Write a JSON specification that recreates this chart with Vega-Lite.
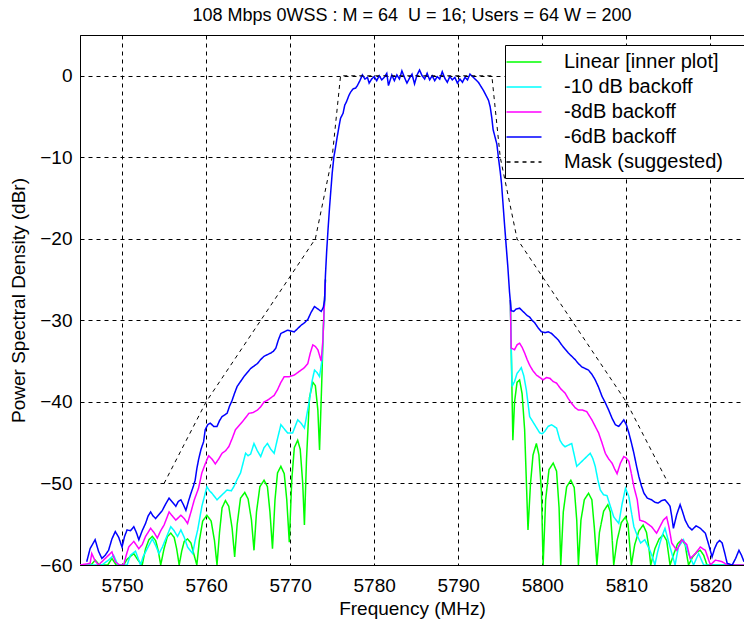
{
  "$schema": "https://vega.github.io/schema/vega-lite/v6.json",
  "autosize": "none",
  "width": 664,
  "height": 530,
  "padding": {"left": 80, "top": 35, "right": 0, "bottom": 60},
  "background": "white",
  "title": {"text": "108 Mbps 0WSS : M = 64\u00a0 U = 16; Users = 64 W = 200", "fontSize": 18, "fontWeight": "normal", "font": "Liberation Sans", "color": "black", "anchor": "middle", "offset": 10},
  "config": {
    "font": "Liberation Sans",
    "view": {"stroke": "black", "strokeWidth": 1},
    "axis": {"grid": true, "gridColor": "black", "gridOpacity": 1, "gridDash": [4, 4], "gridWidth": 1, "domainColor": "black", "domainWidth": 1, "ticks": false, "labelFontSize": 19, "labelColor": "black", "labelFont": "Liberation Sans", "titleFontSize": 19, "titleFontWeight": "normal", "titleColor": "black", "titleFont": "Liberation Sans", "labelFlush": false},
    "legend": {"orient": "none", "legendX": 425, "legendY": 10, "strokeColor": "black", "fillColor": "white", "padding": 6, "symbolType": "M-1.75,0H1.75", "symbolSize": 400, "symbolStrokeWidth": 1.5, "symbolOffset": 2, "labelFontSize": 20, "labelFont": "Liberation Sans", "labelColor": "black", "labelOffset": 29, "labelLimit": 300, "rowPadding": 4, "symbolOpacity": 1, "titleOrient": "right", "titleFontSize": 18, "titleOpacity": 0, "titlePadding": 0}
  },
  "datasets": {
    "green": [
      {"f":5745,"v":-60,"p":"L"},{"f":5746.3,"v":-60,"p":"L"},{"f":5746.8,"v":-59.4,"p":"L"},{"f":5747.3,"v":-60,"p":"L"},{"f":5748.3,"v":-60,"p":"L"},{"f":5748.8,"v":-59.2,"p":"L"},{"f":5749.3,"v":-60,"p":"L"},{"f":5750.2,"v":-60,"p":"L"},{"f":5750.6,"v":-59.3,"p":"L"},{"f":5751.4,"v":-58.6,"p":"L"},{"f":5751.9,"v":-59.4,"p":"L"},{"f":5752.4,"v":-60,"p":"L"},{"f":5752.8,"v":-58,"p":"L"},{"f":5753.2,"v":-56.9,"p":"L"},{"f":5753.6,"v":-56.5,"p":"L"},{"f":5754,"v":-57,"p":"L"},{"f":5754.3,"v":-58.2,"p":"L"},{"f":5754.6,"v":-60,"p":"L"},{"f":5755,"v":-58,"p":"L"},{"f":5755.4,"v":-56.5,"p":"L"},{"f":5755.8,"v":-56.1,"p":"L"},{"f":5756.2,"v":-56.6,"p":"L"},{"f":5756.5,"v":-58,"p":"L"},{"f":5756.8,"v":-60,"p":"L"},{"f":5757.1,"v":-58.3,"p":"L"},{"f":5757.4,"v":-57.1,"p":"L"},{"f":5757.8,"v":-56.8,"p":"L"},{"f":5758.2,"v":-57.3,"p":"L"},{"f":5758.5,"v":-58.5,"p":"L"},{"f":5758.9,"v":-60,"p":"L"},{"f":5759.2,"v":-57,"p":"L"},{"f":5759.6,"v":-54.6,"p":"L"},{"f":5760.1,"v":-53.9,"p":"L"},{"f":5760.6,"v":-54.6,"p":"L"},{"f":5761,"v":-57,"p":"L"},{"f":5761.3,"v":-60,"p":"L"},{"f":5761.6,"v":-56,"p":"L"},{"f":5761.9,"v":-53,"p":"L"},{"f":5762.3,"v":-52.1,"p":"L"},{"f":5762.7,"v":-52.8,"p":"L"},{"f":5763.1,"v":-55.5,"p":"L"},{"f":5763.4,"v":-59,"p":"L"},{"f":5763.7,"v":-55,"p":"L"},{"f":5764.1,"v":-51.8,"p":"L"},{"f":5764.6,"v":-51.1,"p":"L"},{"f":5765,"v":-51.9,"p":"L"},{"f":5765.4,"v":-54.5,"p":"L"},{"f":5765.7,"v":-58.2,"p":"L"},{"f":5766,"v":-53.5,"p":"L"},{"f":5766.4,"v":-50.4,"p":"L"},{"f":5766.9,"v":-49.6,"p":"L"},{"f":5767.3,"v":-50.4,"p":"L"},{"f":5767.6,"v":-53.5,"p":"L"},{"f":5767.9,"v":-58,"p":"L"},{"f":5768.2,"v":-52,"p":"L"},{"f":5768.5,"v":-48.7,"p":"L"},{"f":5768.9,"v":-47.9,"p":"L"},{"f":5769.3,"v":-48.8,"p":"L"},{"f":5769.6,"v":-52,"p":"L"},{"f":5769.9,"v":-57.2,"p":"L"},{"f":5770.2,"v":-49.5,"p":"L"},{"f":5770.5,"v":-45.6,"p":"L"},{"f":5770.9,"v":-44.7,"p":"L"},{"f":5771.2,"v":-45.8,"p":"L"},{"f":5771.5,"v":-50,"p":"L"},{"f":5771.7,"v":-55.1,"p":"L"},{"f":5771.95,"v":-47,"p":"L"},{"f":5772.3,"v":-39.5,"p":"L"},{"f":5772.7,"v":-37.6,"p":"L"},{"f":5773,"v":-38,"p":"L"},{"f":5773.3,"v":-41,"p":"L"},{"f":5773.5,"v":-45.9,"p":"L"},{"f":5773.75,"v":-38,"p":"L"},{"f":5773.95,"v":-31,"p":"L"},{"f":5774.2,"v":-25,"p":"L"},
      {"f":5796.2,"v":-27.5,"p":"R"},{"f":5796.35,"v":-36,"p":"R"},{"f":5796.5,"v":-44.7,"p":"R"},{"f":5796.7,"v":-40,"p":"R"},{"f":5797,"v":-37.6,"p":"R"},{"f":5797.3,"v":-37.3,"p":"R"},{"f":5797.6,"v":-39,"p":"R"},{"f":5797.9,"v":-43.4,"p":"R"},{"f":5798.3,"v":-55.7,"p":"R"},{"f":5798.6,"v":-50,"p":"R"},{"f":5798.9,"v":-46.5,"p":"R"},{"f":5799.3,"v":-45.1,"p":"R"},{"f":5799.6,"v":-46.5,"p":"R"},{"f":5799.9,"v":-51,"p":"R"},{"f":5800.1,"v":-60,"p":"R"},{"f":5800.4,"v":-52,"p":"R"},{"f":5800.8,"v":-48.3,"p":"R"},{"f":5801.3,"v":-47.5,"p":"R"},{"f":5801.7,"v":-48.5,"p":"R"},{"f":5802,"v":-53,"p":"R"},{"f":5802.2,"v":-60,"p":"R"},{"f":5802.5,"v":-53.5,"p":"R"},{"f":5802.9,"v":-50.4,"p":"R"},{"f":5803.4,"v":-49.6,"p":"R"},{"f":5803.8,"v":-50.5,"p":"R"},{"f":5804.1,"v":-54.5,"p":"R"},{"f":5804.3,"v":-60,"p":"R"},{"f":5804.6,"v":-54.5,"p":"R"},{"f":5805,"v":-52,"p":"R"},{"f":5805.5,"v":-51.2,"p":"R"},{"f":5805.9,"v":-52,"p":"R"},{"f":5806.2,"v":-55.5,"p":"R"},{"f":5806.5,"v":-60,"p":"R"},{"f":5806.8,"v":-56,"p":"R"},{"f":5807.3,"v":-53.4,"p":"R"},{"f":5807.8,"v":-52.6,"p":"R"},{"f":5808.1,"v":-53.5,"p":"R"},{"f":5808.3,"v":-56.5,"p":"R"},{"f":5808.5,"v":-60,"p":"R"},{"f":5808.9,"v":-57,"p":"R"},{"f":5809.4,"v":-54.8,"p":"R"},{"f":5809.9,"v":-54.1,"p":"R"},{"f":5810.2,"v":-55,"p":"R"},{"f":5810.4,"v":-57.5,"p":"R"},{"f":5810.6,"v":-60,"p":"R"},{"f":5811,"v":-57.5,"p":"R"},{"f":5811.5,"v":-55.8,"p":"R"},{"f":5812,"v":-55.1,"p":"R"},{"f":5812.4,"v":-56,"p":"R"},{"f":5812.7,"v":-58,"p":"R"},{"f":5812.9,"v":-60,"p":"R"},{"f":5813.4,"v":-58,"p":"R"},{"f":5813.9,"v":-56.8,"p":"R"},{"f":5814.4,"v":-56.3,"p":"R"},{"f":5814.8,"v":-57,"p":"R"},{"f":5815,"v":-58.5,"p":"R"},{"f":5815.2,"v":-60,"p":"R"},{"f":5815.7,"v":-58.5,"p":"R"},{"f":5816.1,"v":-57.4,"p":"R"},{"f":5816.6,"v":-56.9,"p":"R"},{"f":5817,"v":-57.5,"p":"R"},{"f":5817.2,"v":-58.8,"p":"R"},{"f":5817.4,"v":-60,"p":"R"},{"f":5817.9,"v":-59,"p":"R"},{"f":5818.4,"v":-58.4,"p":"R"},{"f":5818.8,"v":-58.2,"p":"R"},{"f":5819.2,"v":-58.8,"p":"R"},{"f":5819.6,"v":-60,"p":"R"},{"f":5824,"v":-60,"p":"R"}
    ],
    "cyan": [
      {"f":5745,"v":-60,"p":"L"},{"f":5747.6,"v":-60,"p":"L"},{"f":5748,"v":-59.7,"p":"L"},{"f":5748.4,"v":-59.4,"p":"L"},{"f":5749,"v":-58.8,"p":"L"},{"f":5749.5,"v":-60,"p":"L"},{"f":5750.6,"v":-60,"p":"L"},{"f":5751,"v":-58.8,"p":"L"},{"f":5751.6,"v":-58.3,"p":"L"},{"f":5752.2,"v":-60,"p":"L"},{"f":5752.5,"v":-59,"p":"L"},{"f":5753,"v":-58,"p":"L"},{"f":5753.6,"v":-56.8,"p":"L"},{"f":5754,"v":-57.6,"p":"L"},{"f":5754.4,"v":-58.6,"p":"L"},{"f":5754.8,"v":-57.8,"p":"L"},{"f":5755.2,"v":-56.8,"p":"L"},{"f":5755.8,"v":-55.3,"p":"L"},{"f":5756.2,"v":-55.8,"p":"L"},{"f":5756.6,"v":-56.5,"p":"L"},{"f":5757,"v":-55.7,"p":"L"},{"f":5757.4,"v":-56.6,"p":"L"},{"f":5757.8,"v":-57.8,"p":"L"},{"f":5758.4,"v":-58.6,"p":"L"},{"f":5758.7,"v":-57,"p":"L"},{"f":5759,"v":-55.7,"p":"L"},{"f":5759.5,"v":-52.8,"p":"L"},{"f":5760.1,"v":-50.4,"p":"L"},{"f":5760.4,"v":-50.9,"p":"L"},{"f":5760.7,"v":-51.2,"p":"L"},{"f":5761.3,"v":-52,"p":"L"},{"f":5761.9,"v":-51.4,"p":"L"},{"f":5762.5,"v":-50.8,"p":"L"},{"f":5763,"v":-50.9,"p":"L"},{"f":5763.3,"v":-50.4,"p":"L"},{"f":5763.7,"v":-49.5,"p":"L"},{"f":5764.1,"v":-48.7,"p":"L"},{"f":5764.7,"v":-46.3,"p":"L"},{"f":5765,"v":-46.6,"p":"L"},{"f":5765.3,"v":-46.4,"p":"L"},{"f":5765.7,"v":-45.1,"p":"L"},{"f":5766.1,"v":-46,"p":"L"},{"f":5766.5,"v":-46.7,"p":"L"},{"f":5766.9,"v":-45.6,"p":"L"},{"f":5767.3,"v":-45.1,"p":"L"},{"f":5767.7,"v":-45.8,"p":"L"},{"f":5768.1,"v":-46.3,"p":"L"},{"f":5768.5,"v":-44.5,"p":"L"},{"f":5768.9,"v":-42.8,"p":"L"},{"f":5769.3,"v":-43.3,"p":"L"},{"f":5769.7,"v":-43.8,"p":"L"},{"f":5770.3,"v":-43.8,"p":"L"},{"f":5770.9,"v":-42.2,"p":"L"},{"f":5771.3,"v":-42.6,"p":"L"},{"f":5771.7,"v":-43.2,"p":"L"},{"f":5772,"v":-41.5,"p":"L"},{"f":5772.3,"v":-39.8,"p":"L"},{"f":5772.6,"v":-37.5,"p":"L"},{"f":5772.9,"v":-36.1,"p":"L"},{"f":5773.2,"v":-36.4,"p":"L"},{"f":5773.5,"v":-36.9,"p":"L"},{"f":5773.8,"v":-34.8,"p":"L"},{"f":5774,"v":-30,"p":"L"},{"f":5774.2,"v":-25,"p":"L"},
      {"f":5796.2,"v":-27.5,"p":"R"},{"f":5796.3,"v":-33,"p":"R"},{"f":5796.4,"v":-38.1,"p":"R"},{"f":5796.7,"v":-37.5,"p":"R"},{"f":5797,"v":-36.5,"p":"R"},{"f":5797.3,"v":-36.1,"p":"R"},{"f":5797.5,"v":-35.8,"p":"R"},{"f":5797.8,"v":-36.8,"p":"R"},{"f":5798.1,"v":-38.5,"p":"R"},{"f":5798.5,"v":-41.8,"p":"R"},{"f":5798.8,"v":-42.3,"p":"R"},{"f":5799.1,"v":-42.8,"p":"R"},{"f":5799.4,"v":-43.3,"p":"R"},{"f":5799.7,"v":-43.8,"p":"R"},{"f":5800,"v":-43.9,"p":"R"},{"f":5800.3,"v":-43.6,"p":"R"},{"f":5800.7,"v":-43,"p":"R"},{"f":5801.1,"v":-42.8,"p":"R"},{"f":5801.4,"v":-43,"p":"R"},{"f":5801.7,"v":-43.2,"p":"R"},{"f":5802.1,"v":-44.7,"p":"R"},{"f":5802.4,"v":-45.2,"p":"R"},{"f":5802.7,"v":-45.5,"p":"R"},{"f":5803.1,"v":-45.3,"p":"R"},{"f":5803.5,"v":-45.1,"p":"R"},{"f":5803.8,"v":-46.5,"p":"R"},{"f":5804.1,"v":-47.9,"p":"R"},{"f":5804.5,"v":-47.5,"p":"R"},{"f":5804.9,"v":-47.1,"p":"R"},{"f":5805.3,"v":-46.7,"p":"R"},{"f":5805.7,"v":-46.3,"p":"R"},{"f":5806,"v":-46.9,"p":"R"},{"f":5806.3,"v":-47.9,"p":"R"},{"f":5806.6,"v":-49.5,"p":"R"},{"f":5806.9,"v":-50.8,"p":"R"},{"f":5807.3,"v":-51.4,"p":"R"},{"f":5807.7,"v":-51.5,"p":"R"},{"f":5808.1,"v":-52.8,"p":"R"},{"f":5808.5,"v":-54.1,"p":"R"},{"f":5809.1,"v":-54.9,"p":"R"},{"f":5809.5,"v":-52.5,"p":"R"},{"f":5809.9,"v":-50.6,"p":"R"},{"f":5810.3,"v":-51.6,"p":"R"},{"f":5810.6,"v":-53.5,"p":"R"},{"f":5810.9,"v":-55.3,"p":"R"},{"f":5811.3,"v":-56.4,"p":"R"},{"f":5811.7,"v":-57.3,"p":"R"},{"f":5812.2,"v":-56.9,"p":"R"},{"f":5812.8,"v":-58.2,"p":"R"},{"f":5813.1,"v":-59,"p":"R"},{"f":5813.4,"v":-60,"p":"R"},{"f":5813.7,"v":-58.5,"p":"R"},{"f":5814,"v":-57.3,"p":"R"},{"f":5814.3,"v":-56.3,"p":"R"},{"f":5814.6,"v":-55.5,"p":"R"},{"f":5815.2,"v":-57.8,"p":"R"},{"f":5815.8,"v":-60,"p":"R"},{"f":5816.2,"v":-57.8,"p":"R"},{"f":5816.8,"v":-56.9,"p":"R"},{"f":5817.4,"v":-58.6,"p":"R"},{"f":5818,"v":-60,"p":"R"},{"f":5818.6,"v":-58.6,"p":"R"},{"f":5819.2,"v":-60,"p":"R"},{"f":5824,"v":-60,"p":"R"}
    ],
    "magenta": [
      {"f":5745,"v":-60,"p":"L"},{"f":5746.2,"v":-59.8,"p":"L"},{"f":5746.4,"v":-58.6,"p":"L"},{"f":5746.8,"v":-59.5,"p":"L"},{"f":5747.2,"v":-60,"p":"L"},{"f":5748,"v":-59.2,"p":"L"},{"f":5748.8,"v":-58.4,"p":"L"},{"f":5749.2,"v":-59.6,"p":"L"},{"f":5749.7,"v":-60,"p":"L"},{"f":5750.2,"v":-60,"p":"L"},{"f":5750.5,"v":-58.8,"p":"L"},{"f":5750.8,"v":-57.8,"p":"L"},{"f":5751.4,"v":-57.1,"p":"L"},{"f":5752,"v":-58,"p":"L"},{"f":5752.4,"v":-57.5,"p":"L"},{"f":5752.8,"v":-56.5,"p":"L"},{"f":5753.4,"v":-55.5,"p":"L"},{"f":5753.8,"v":-56,"p":"L"},{"f":5754.2,"v":-56.7,"p":"L"},{"f":5754.6,"v":-55.8,"p":"L"},{"f":5755,"v":-55.1,"p":"L"},{"f":5755.6,"v":-53.5,"p":"L"},{"f":5756,"v":-54,"p":"L"},{"f":5756.4,"v":-54.5,"p":"L"},{"f":5757,"v":-53.9,"p":"L"},{"f":5757.4,"v":-54.3,"p":"L"},{"f":5757.8,"v":-54.9,"p":"L"},{"f":5758.2,"v":-53.5,"p":"L"},{"f":5758.6,"v":-52,"p":"L"},{"f":5759.1,"v":-50.6,"p":"L"},{"f":5759.5,"v":-48.7,"p":"L"},{"f":5759.9,"v":-47.6,"p":"L"},{"f":5760.3,"v":-46.6,"p":"L"},{"f":5760.7,"v":-47,"p":"L"},{"f":5761.1,"v":-47.6,"p":"L"},{"f":5761.5,"v":-47,"p":"L"},{"f":5761.9,"v":-46.3,"p":"L"},{"f":5762.3,"v":-46,"p":"L"},{"f":5762.7,"v":-45.5,"p":"L"},{"f":5763.1,"v":-44.5,"p":"L"},{"f":5763.5,"v":-43.4,"p":"L"},{"f":5764,"v":-42.8,"p":"L"},{"f":5764.5,"v":-42.2,"p":"L"},{"f":5765.1,"v":-41.4,"p":"L"},{"f":5765.6,"v":-41.3,"p":"L"},{"f":5766.1,"v":-41,"p":"L"},{"f":5766.5,"v":-40.6,"p":"L"},{"f":5766.9,"v":-40,"p":"L"},{"f":5767.3,"v":-39.8,"p":"L"},{"f":5767.7,"v":-39.5,"p":"L"},{"f":5768.1,"v":-39.2,"p":"L"},{"f":5768.5,"v":-38.5,"p":"L"},{"f":5768.9,"v":-37.6,"p":"L"},{"f":5769.3,"v":-36.9,"p":"L"},{"f":5769.9,"v":-36.9,"p":"L"},{"f":5770.5,"v":-36.7,"p":"L"},{"f":5770.9,"v":-36.4,"p":"L"},{"f":5771.3,"v":-36.1,"p":"L"},{"f":5771.7,"v":-35.8,"p":"L"},{"f":5772.1,"v":-35.3,"p":"L"},{"f":5772.4,"v":-34,"p":"L"},{"f":5772.7,"v":-33,"p":"L"},{"f":5773,"v":-33.2,"p":"L"},{"f":5773.3,"v":-33.6,"p":"L"},{"f":5773.7,"v":-35,"p":"L"},{"f":5773.9,"v":-32.4,"p":"L"},{"f":5774.05,"v":-28.5,"p":"L"},{"f":5774.2,"v":-25,"p":"L"},
      {"f":5796.2,"v":-27.5,"p":"R"},{"f":5796.3,"v":-33.4,"p":"R"},{"f":5796.7,"v":-33.6,"p":"R"},{"f":5797,"v":-33,"p":"R"},{"f":5797.3,"v":-32.8,"p":"R"},{"f":5797.6,"v":-33.3,"p":"R"},{"f":5797.9,"v":-34,"p":"R"},{"f":5798.2,"v":-34.8,"p":"R"},{"f":5798.5,"v":-35.5,"p":"R"},{"f":5798.9,"v":-36.2,"p":"R"},{"f":5799.3,"v":-36.7,"p":"R"},{"f":5799.7,"v":-37,"p":"R"},{"f":5800.1,"v":-37.3,"p":"R"},{"f":5800.5,"v":-37,"p":"R"},{"f":5800.9,"v":-37.1,"p":"R"},{"f":5801.3,"v":-37.5,"p":"R"},{"f":5801.7,"v":-37.7,"p":"R"},{"f":5802.2,"v":-38.4,"p":"R"},{"f":5802.7,"v":-38.9,"p":"R"},{"f":5803.1,"v":-39.6,"p":"R"},{"f":5803.5,"v":-40.2,"p":"R"},{"f":5803.9,"v":-40.7,"p":"R"},{"f":5804.3,"v":-41,"p":"R"},{"f":5804.8,"v":-41,"p":"R"},{"f":5805.3,"v":-41.2,"p":"R"},{"f":5805.6,"v":-41.7,"p":"R"},{"f":5805.9,"v":-42.2,"p":"R"},{"f":5806.3,"v":-43,"p":"R"},{"f":5806.7,"v":-43.8,"p":"R"},{"f":5807.1,"v":-45,"p":"R"},{"f":5807.5,"v":-46.3,"p":"R"},{"f":5807.9,"v":-47,"p":"R"},{"f":5808.3,"v":-47.5,"p":"R"},{"f":5808.6,"v":-48.2,"p":"R"},{"f":5808.9,"v":-48.8,"p":"R"},{"f":5809.3,"v":-47.5,"p":"R"},{"f":5809.7,"v":-46.7,"p":"R"},{"f":5810,"v":-46.9,"p":"R"},{"f":5810.3,"v":-47.3,"p":"R"},{"f":5810.6,"v":-48.8,"p":"R"},{"f":5810.9,"v":-50.4,"p":"R"},{"f":5811.3,"v":-52,"p":"R"},{"f":5811.6,"v":-54.5,"p":"R"},{"f":5812.2,"v":-54.7,"p":"R"},{"f":5812.6,"v":-55,"p":"R"},{"f":5813,"v":-55.3,"p":"R"},{"f":5813.6,"v":-56.1,"p":"R"},{"f":5814,"v":-55.3,"p":"R"},{"f":5814.4,"v":-54.5,"p":"R"},{"f":5814.8,"v":-54.1,"p":"R"},{"f":5815.1,"v":-55.5,"p":"R"},{"f":5815.4,"v":-57.3,"p":"R"},{"f":5816,"v":-58.2,"p":"R"},{"f":5816.6,"v":-56.9,"p":"R"},{"f":5817.2,"v":-57.5,"p":"R"},{"f":5817.6,"v":-59.2,"p":"R"},{"f":5818.2,"v":-58.6,"p":"R"},{"f":5818.8,"v":-57.8,"p":"R"},{"f":5819.4,"v":-58.2,"p":"R"},{"f":5820,"v":-60,"p":"R"},{"f":5820.6,"v":-59.4,"p":"R"},{"f":5821.4,"v":-59.6,"p":"R"},{"f":5822,"v":-60,"p":"R"},{"f":5824,"v":-60,"p":"R"}
    ],
    "blue": [
      {"f":5745.8,"v":-59.6},{"f":5746.2,"v":-58},{"f":5746.8,"v":-56.9},{"f":5747.2,"v":-58.3},{"f":5747.6,"v":-59.2},{"f":5748,"v":-58.8},{"f":5748.4,"v":-58.2},{"f":5748.8,"v":-56.8},{"f":5749.2,"v":-55.9},{"f":5749.6,"v":-56.6},{"f":5750,"v":-57.8},{"f":5750.3,"v":-56.5},{"f":5750.6,"v":-55.7},{"f":5751,"v":-55.8},{"f":5751.4,"v":-55.3},{"f":5751.7,"v":-56},{"f":5752,"v":-56.9},{"f":5752.4,"v":-55.8},{"f":5752.8,"v":-54.9},{"f":5753.1,"v":-54},{"f":5753.4,"v":-53.5},{"f":5753.7,"v":-54},{"f":5754,"v":-54.3},{"f":5754.4,"v":-53.8},{"f":5754.8,"v":-53.3},{"f":5755.2,"v":-52.5},{"f":5755.6,"v":-51.8},{"f":5756,"v":-52.3},{"f":5756.4,"v":-52.8},{"f":5756.7,"v":-52.2},{"f":5757,"v":-52},{"f":5757.3,"v":-52.6},{"f":5757.6,"v":-53.3},{"f":5757.9,"v":-52.2},{"f":5758.2,"v":-51.2},{"f":5758.5,"v":-50.3},{"f":5758.7,"v":-49.6},{"f":5758.9,"v":-48.2},{"f":5759.1,"v":-47.1},{"f":5759.4,"v":-45.8},{"f":5759.7,"v":-44.9},{"f":5759.9,"v":-43.4},{"f":5760.2,"v":-42.8},{"f":5760.5,"v":-42.6},{"f":5760.9,"v":-43},{"f":5761.3,"v":-43},{"f":5761.6,"v":-42.3},{"f":5761.9,"v":-41.8},{"f":5762.2,"v":-41.6},{"f":5762.5,"v":-41.4},{"f":5762.8,"v":-40.5},{"f":5763.1,"v":-39.8},{"f":5763.4,"v":-38.9},{"f":5763.7,"v":-38.1},{"f":5764.1,"v":-37.5},{"f":5764.5,"v":-36.9},{"f":5764.9,"v":-36.4},{"f":5765.3,"v":-35.9},{"f":5765.7,"v":-35.6},{"f":5766.1,"v":-35.3},{"f":5766.5,"v":-34.8},{"f":5766.9,"v":-34.4},{"f":5767.3,"v":-34.2},{"f":5767.7,"v":-34},{"f":5768,"v":-33.8},{"f":5768.3,"v":-33.4},{"f":5768.6,"v":-32.4},{"f":5768.9,"v":-31.6},{"f":5769.3,"v":-31.4},{"f":5769.7,"v":-31.2},{"f":5770.1,"v":-31.3},{"f":5770.5,"v":-31.4},{"f":5770.9,"v":-31},{"f":5771.3,"v":-30.6},{"f":5771.7,"v":-30.3},{"f":5772.1,"v":-29.9},{"f":5772.5,"v":-29},{"f":5772.9,"v":-28.3},{"f":5773.3,"v":-28.6},{"f":5773.7,"v":-28.9},{"f":5773.95,"v":-28.4},
      {"f":5774.1,"v":-27.5},{"f":5774.2,"v":-24.5},{"f":5774.35,"v":-21.5},{"f":5774.5,"v":-19},{"f":5774.7,"v":-16},{"f":5774.85,"v":-14},{"f":5775,"v":-12},{"f":5775.2,"v":-10},{"f":5775.4,"v":-8.8},{"f":5775.6,"v":-7.5},{"f":5775.8,"v":-6.3},{"f":5776,"v":-5.2},{"f":5776.3,"v":-4.6},{"f":5776.5,"v":-3.6},{"f":5776.7,"v":-3.2},{"f":5777,"v":-2.4},{"f":5777.2,"v":-2},{"f":5777.5,"v":-1.6},{"f":5777.8,"v":-1.5},{"f":5778,"v":-1.2},{"f":5778.3,"v":-0.6},{"f":5778.6,"v":0.1},
      {"f":5778.9,"v":-0.4},{"f":5779.2,"v":-0.2},{"f":5779.4,"v":-0.9},{"f":5779.7,"v":-0.4},{"f":5780,"v":-0.1},{"f":5780.3,"v":-0.6},{"f":5780.6,"v":0},{"f":5780.9,"v":-0.5},{"f":5781.2,"v":-0.2},{"f":5781.5,"v":0.3},{"f":5781.7,"v":-1.2},{"f":5782.1,"v":0.1},{"f":5782.4,"v":-0.6},{"f":5782.7,"v":0.1},{"f":5783,"v":-0.4},{"f":5783.3,"v":0.6},{"f":5783.6,"v":-0.2},{"f":5783.9,"v":-0.9},{"f":5784.2,"v":-0.3},{"f":5784.5,"v":0.2},{"f":5784.8,"v":-1},{"f":5785.1,"v":0.1},{"f":5785.4,"v":0.7},{"f":5785.7,"v":0},{"f":5786,"v":-0.4},{"f":5786.3,"v":0.3},{"f":5786.6,"v":-0.5},{"f":5786.9,"v":0},{"f":5787.2,"v":-0.6},{"f":5787.5,"v":-0.1},{"f":5787.8,"v":-0.4},{"f":5788.1,"v":0.5},{"f":5788.4,"v":-0.3},{"f":5788.7,"v":-0.8},{"f":5789,"v":-0.1},{"f":5789.3,"v":-0.5},{"f":5789.6,"v":-0.2},{"f":5789.9,"v":-0.9},{"f":5790.2,"v":-0.4},{"f":5790.5,"v":-0.8},{"f":5790.8,"v":-0.2},{"f":5791.1,"v":-0.5},{"f":5791.4,"v":0.2},{"f":5791.7,"v":-0.1},
      {"f":5792,"v":-0.4},{"f":5792.4,"v":-0.8},{"f":5792.7,"v":-1.3},{"f":5793,"v":-1.8},{"f":5793.3,"v":-2.4},{"f":5793.6,"v":-3},{"f":5793.8,"v":-3.8},{"f":5794,"v":-5.2},{"f":5794.15,"v":-6.6},{"f":5794.4,"v":-7.6},{"f":5794.6,"v":-8.4},{"f":5794.8,"v":-10.2},{"f":5795,"v":-11.8},{"f":5795.15,"v":-13.2},{"f":5795.35,"v":-16},{"f":5795.5,"v":-18.1},{"f":5795.7,"v":-20.8},{"f":5795.9,"v":-23.4},{"f":5796.1,"v":-26.5},{"f":5796.3,"v":-28.8},
      {"f":5796.6,"v":-28.9},{"f":5796.9,"v":-28.6},{"f":5797.3,"v":-28.5},{"f":5797.6,"v":-28.8},{"f":5797.9,"v":-29.1},{"f":5798.2,"v":-29.4},{"f":5798.5,"v":-29.6},{"f":5798.8,"v":-30},{"f":5799.1,"v":-30.3},{"f":5799.5,"v":-30.9},{"f":5799.9,"v":-31.4},{"f":5800.3,"v":-31.5},{"f":5800.7,"v":-31.4},{"f":5801.1,"v":-31.6},{"f":5801.5,"v":-32},{"f":5801.9,"v":-32.4},{"f":5802.3,"v":-33},{"f":5802.7,"v":-33.5},{"f":5803.1,"v":-34},{"f":5803.5,"v":-34.4},{"f":5803.9,"v":-34.8},{"f":5804.3,"v":-35.3},{"f":5804.7,"v":-35.7},{"f":5805.1,"v":-35.9},{"f":5805.5,"v":-36.1},{"f":5805.9,"v":-36.6},{"f":5806.3,"v":-37.3},{"f":5806.7,"v":-38.2},{"f":5807.1,"v":-39.3},{"f":5807.5,"v":-40.1},{"f":5807.9,"v":-41},{"f":5808.3,"v":-42},{"f":5808.7,"v":-42.8},{"f":5809.1,"v":-43},{"f":5809.4,"v":-42.6},{"f":5809.7,"v":-42.2},{"f":5810,"v":-42.8},{"f":5810.3,"v":-43.8},{"f":5810.6,"v":-45},{"f":5810.9,"v":-46.3},{"f":5811.2,"v":-47.8},{"f":5811.5,"v":-49.2},{"f":5811.8,"v":-50.3},{"f":5812.1,"v":-51.2},{"f":5812.5,"v":-51.8},{"f":5813,"v":-52},{"f":5813.4,"v":-52.3},{"f":5813.8,"v":-52.4},{"f":5814.2,"v":-52.1},{"f":5814.6,"v":-52},{"f":5815,"v":-52.5},{"f":5815.2,"v":-52.8},{"f":5815.4,"v":-54},{"f":5815.6,"v":-55.5},{"f":5816,"v":-53.8},{"f":5816.4,"v":-52.6},{"f":5816.7,"v":-53.5},{"f":5817,"v":-54.5},{"f":5817.4,"v":-55.3},{"f":5817.8,"v":-55.7},{"f":5818.3,"v":-55.2},{"f":5818.8,"v":-55.5},{"f":5819.1,"v":-55.8},{"f":5819.4,"v":-56.1},{"f":5819.8,"v":-57.5},{"f":5820.2,"v":-59},{"f":5820.5,"v":-58},{"f":5820.8,"v":-57.3},{"f":5821.1,"v":-57},{"f":5821.4,"v":-57.3},{"f":5821.7,"v":-58.5},{"f":5822,"v":-59.8},{"f":5822.6,"v":-60},{"f":5823,"v":-59.2},{"f":5823.4,"v":-58.2},{"f":5823.7,"v":-58.8},{"f":5824,"v":-59.6}
    ],
    "mask": [
      {"f":5755,"v":-50},{"f":5760,"v":-40},{"f":5773,"v":-20},{"f":5775,"v":-10},{"f":5776,"v":0},{"f":5794,"v":0},{"f":5795,"v":-10},{"f":5797,"v":-20},{"f":5810,"v":-40},{"f":5815,"v":-50}
    ]
  },
  "encoding": {
    "x": {"field": "f", "type": "quantitative", "scale": {"domain": [5745, 5824], "nice": false, "zero": false}, "axis": {"title": "Frequency (MHz)", "format": "d", "values": [5750, 5760, 5770, 5780, 5790, 5800, 5810, 5820], "labelPadding": 11, "titlePadding": 4}},
    "y": {"field": "v", "type": "quantitative", "scale": {"domain": [-60, 5], "nice": false, "zero": false}, "axis": {"title": "Power Spectral Density (dBr)", "format": "d", "values": [-60, -50, -40, -30, -20, -10, 0], "labelPadding": 8, "titlePadding": 11}}
  },
  "layer": [
    {"data": {"name": "green"}, "mark": {"type": "line", "clip": true, "strokeWidth": 1.5},
     "encoding": {"detail": {"field": "p"},
       "color": {"datum": "Linear [inner plot]", "legend": {"title": "\u2014"}, "scale": {"domain": ["Linear [inner plot]", "-10 dB backoff", "-8dB backoff", "-6dB backoff", "Mask (suggested)"], "range": ["#00ff00", "#00ffff", "#ff00ff", "#0000ff", "#000000"]}},
       "strokeDash": {"datum": "Linear [inner plot]", "legend": {"title": "\u2014"}, "scale": {"domain": ["Linear [inner plot]", "-10 dB backoff", "-8dB backoff", "-6dB backoff", "Mask (suggested)"], "range": [[1, 0], [1, 0], [1, 0], [1, 0], [4, 4]]}}}},
    {"data": {"name": "cyan"}, "mark": {"type": "line", "clip": true, "strokeWidth": 1.5},
     "encoding": {"detail": {"field": "p"},
       "color": {"datum": "-10 dB backoff"},
       "strokeDash": {"datum": "-10 dB backoff"}}},
    {"data": {"name": "magenta"}, "mark": {"type": "line", "clip": true, "strokeWidth": 1.5},
     "encoding": {"detail": {"field": "p"},
       "color": {"datum": "-8dB backoff"},
       "strokeDash": {"datum": "-8dB backoff"}}},
    {"data": {"name": "blue"}, "mark": {"type": "line", "clip": true, "strokeWidth": 1.5},
     "encoding": {
       "color": {"datum": "-6dB backoff"},
       "strokeDash": {"datum": "-6dB backoff"}}},
    {"data": {"name": "mask"}, "mark": {"type": "line", "clip": true, "strokeWidth": 1},
     "encoding": {
       "color": {"datum": "Mask (suggested)"},
       "strokeDash": {"datum": "Mask (suggested)"}}}
  ]
}
